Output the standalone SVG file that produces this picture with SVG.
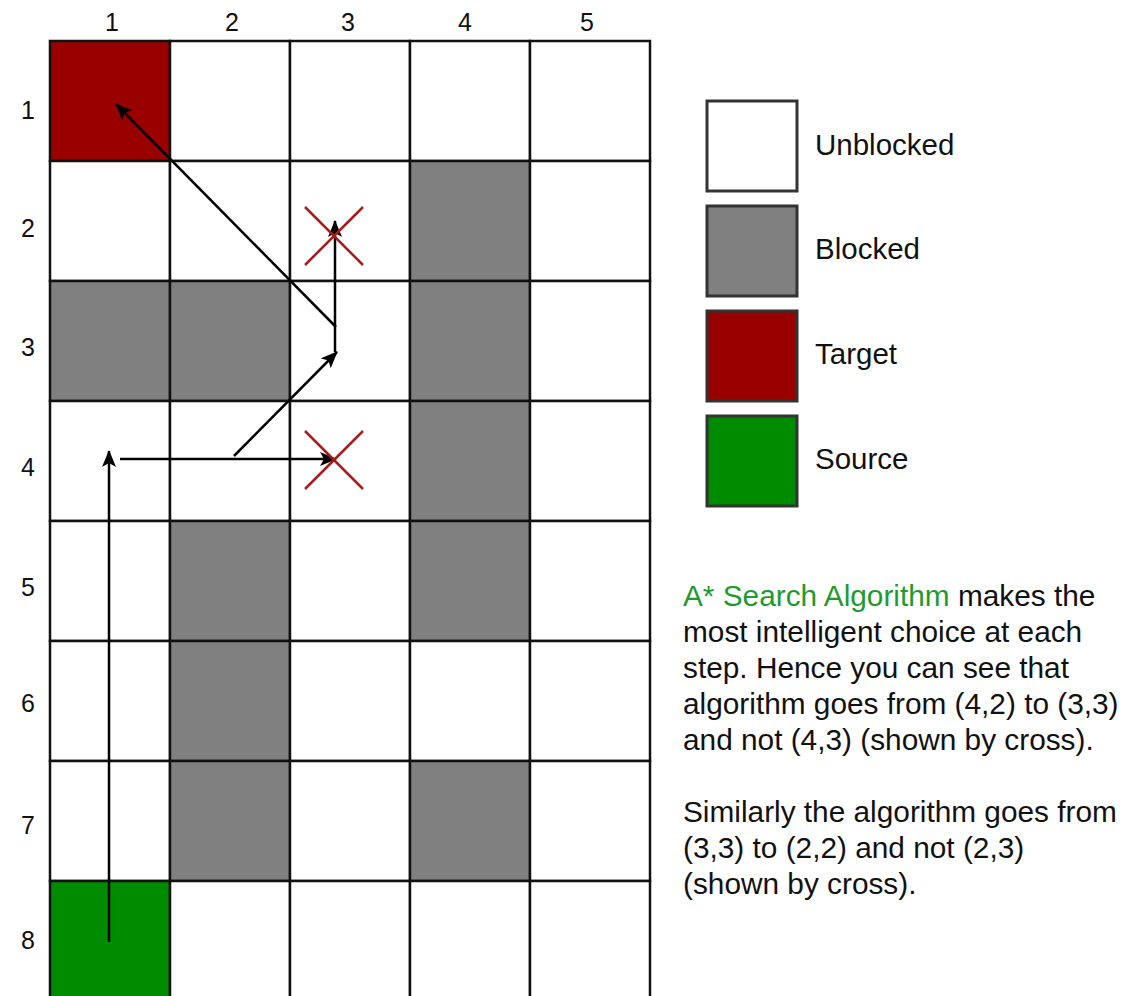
<svg xmlns="http://www.w3.org/2000/svg" width="1124" height="996" viewBox="0 0 1124 996">
<style>
.cell{stroke:#111;stroke-width:2.5}
.u{fill:#fff}.b{fill:#808080}.t{fill:#990000}.s{fill:#008c00}
.lg{stroke:#333;stroke-width:3}
.num{font-family:"Liberation Sans",Arial,sans-serif;font-size:25px;fill:#111;text-anchor:middle}
.lbl{font-family:"Liberation Sans",Arial,sans-serif;font-size:29.5px;fill:#111}
.para{font-family:"Liberation Sans",Arial,sans-serif;font-size:29.8px;fill:#111}
.green{fill:#1f9a2e}
.path{stroke:#000;stroke-width:2.5;fill:none}
.cross{stroke:#a51c1c;stroke-width:2.5}
</style>
<defs>
<marker id="ah" viewBox="0 0 17 14" refX="16" refY="7" markerWidth="17" markerHeight="14" markerUnits="userSpaceOnUse" orient="auto">
<path d="M0,0 L17,7 L0,14 L4,7 Z" fill="#000"/>
</marker>
</defs>
<rect width="1124" height="996" fill="#fff"/>
<g id="column-labels">
<text class="num" x="112" y="31">1</text>
<text class="num" x="232" y="31">2</text>
<text class="num" x="348" y="31">3</text>
<text class="num" x="465" y="31">4</text>
<text class="num" x="587" y="31">5</text>
</g>
<g id="row-labels">
<text class="num" x="28" y="119">1</text>
<text class="num" x="28" y="237">2</text>
<text class="num" x="28" y="356">3</text>
<text class="num" x="28" y="476">4</text>
<text class="num" x="28" y="596">5</text>
<text class="num" x="28" y="712">6</text>
<text class="num" x="28" y="834">7</text>
<text class="num" x="28" y="949">8</text>
</g>
<g id="grid">
<g id="row1">
<rect id="c1-1" class="cell t" x="50" y="41" width="120" height="120"/>
<rect id="c1-2" class="cell u" x="170" y="41" width="120" height="120"/>
<rect id="c1-3" class="cell u" x="290" y="41" width="120" height="120"/>
<rect id="c1-4" class="cell u" x="410" y="41" width="120" height="120"/>
<rect id="c1-5" class="cell u" x="530" y="41" width="120" height="120"/>
</g>
<g id="row2">
<rect id="c2-1" class="cell u" x="50" y="161" width="120" height="120"/>
<rect id="c2-2" class="cell u" x="170" y="161" width="120" height="120"/>
<rect id="c2-3" class="cell u" x="290" y="161" width="120" height="120"/>
<rect id="c2-4" class="cell b" x="410" y="161" width="120" height="120"/>
<rect id="c2-5" class="cell u" x="530" y="161" width="120" height="120"/>
</g>
<g id="row3">
<rect id="c3-1" class="cell b" x="50" y="281" width="120" height="120"/>
<rect id="c3-2" class="cell b" x="170" y="281" width="120" height="120"/>
<rect id="c3-3" class="cell u" x="290" y="281" width="120" height="120"/>
<rect id="c3-4" class="cell b" x="410" y="281" width="120" height="120"/>
<rect id="c3-5" class="cell u" x="530" y="281" width="120" height="120"/>
</g>
<g id="row4">
<rect id="c4-1" class="cell u" x="50" y="401" width="120" height="120"/>
<rect id="c4-2" class="cell u" x="170" y="401" width="120" height="120"/>
<rect id="c4-3" class="cell u" x="290" y="401" width="120" height="120"/>
<rect id="c4-4" class="cell b" x="410" y="401" width="120" height="120"/>
<rect id="c4-5" class="cell u" x="530" y="401" width="120" height="120"/>
</g>
<g id="row5">
<rect id="c5-1" class="cell u" x="50" y="521" width="120" height="120"/>
<rect id="c5-2" class="cell b" x="170" y="521" width="120" height="120"/>
<rect id="c5-3" class="cell u" x="290" y="521" width="120" height="120"/>
<rect id="c5-4" class="cell b" x="410" y="521" width="120" height="120"/>
<rect id="c5-5" class="cell u" x="530" y="521" width="120" height="120"/>
</g>
<g id="row6">
<rect id="c6-1" class="cell u" x="50" y="641" width="120" height="120"/>
<rect id="c6-2" class="cell b" x="170" y="641" width="120" height="120"/>
<rect id="c6-3" class="cell u" x="290" y="641" width="120" height="120"/>
<rect id="c6-4" class="cell u" x="410" y="641" width="120" height="120"/>
<rect id="c6-5" class="cell u" x="530" y="641" width="120" height="120"/>
</g>
<g id="row7">
<rect id="c7-1" class="cell u" x="50" y="761" width="120" height="120"/>
<rect id="c7-2" class="cell b" x="170" y="761" width="120" height="120"/>
<rect id="c7-3" class="cell u" x="290" y="761" width="120" height="120"/>
<rect id="c7-4" class="cell b" x="410" y="761" width="120" height="120"/>
<rect id="c7-5" class="cell u" x="530" y="761" width="120" height="120"/>
</g>
<g id="row8">
<rect id="c8-1" class="cell s" x="50" y="881" width="120" height="120"/>
<rect id="c8-2" class="cell u" x="170" y="881" width="120" height="120"/>
<rect id="c8-3" class="cell u" x="290" y="881" width="120" height="120"/>
<rect id="c8-4" class="cell u" x="410" y="881" width="120" height="120"/>
<rect id="c8-5" class="cell u" x="530" y="881" width="120" height="120"/>
</g>
</g>
<g id="connectors">
<line class="path" x1="109" y1="942" x2="109" y2="451" marker-end="url(#ah)"/>
<line class="path" x1="120" y1="459" x2="336" y2="459" marker-end="url(#ah)"/>
<line class="path" x1="234" y1="456" x2="337" y2="352" marker-end="url(#ah)"/>
<line class="path" x1="335" y1="352" x2="335" y2="221" marker-end="url(#ah)"/>
<line class="path" x1="336" y1="327" x2="116" y2="104" marker-end="url(#ah)"/>
</g>
<g id="cross-2-3">
<line class="cross" x1="305" y1="207" x2="363" y2="265"/>
<line class="cross" x1="363" y1="207" x2="305" y2="265"/>
</g>
<g id="cross-4-3">
<line class="cross" x1="305" y1="431" x2="363" y2="489"/>
<line class="cross" x1="363" y1="431" x2="305" y2="489"/>
</g>
<g id="legend-unblocked">
<rect class="lg u" x="707" y="101" width="90" height="90"/>
<text class="lbl" x="815" y="155">Unblocked</text>
</g>
<g id="legend-blocked">
<rect class="lg b" x="707" y="206" width="90" height="90"/>
<text class="lbl" x="815" y="259">Blocked</text>
</g>
<g id="legend-target">
<rect class="lg t" x="707" y="311" width="90" height="90"/>
<text class="lbl" x="815" y="364">Target</text>
</g>
<g id="legend-source">
<rect class="lg s" x="707" y="416" width="90" height="90"/>
<text class="lbl" x="815" y="469">Source</text>
</g>
<g id="description">
<text class="para" x="683" y="606"><tspan class="green">A* Search Algorithm</tspan> makes the</text>
<text class="para" x="683" y="642">most intelligent choice at each</text>
<text class="para" x="683" y="678">step. Hence you can see that</text>
<text class="para" x="683" y="714">algorithm goes from (4,2) to (3,3)</text>
<text class="para" x="683" y="750">and not (4,3) (shown by cross).</text>
<text class="para" x="683" y="822">Similarly the algorithm goes from</text>
<text class="para" x="683" y="858">(3,3) to (2,2) and not (2,3)</text>
<text class="para" x="683" y="894">(shown by cross).</text>
</g>
</svg>
